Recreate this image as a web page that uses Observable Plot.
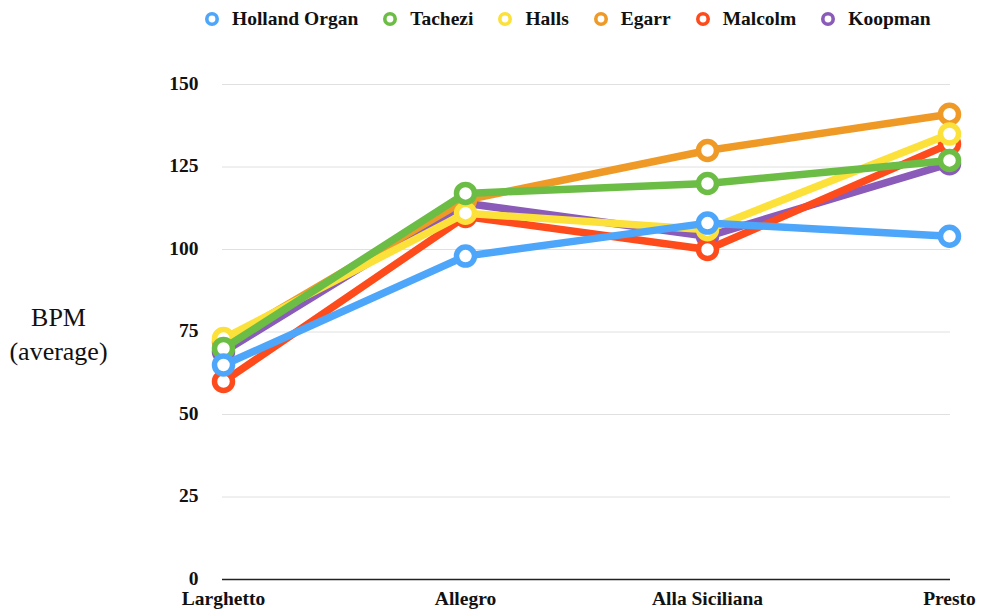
<!DOCTYPE html>
<html>
<head>
<meta charset="utf-8">
<script src="https://cdn.jsdelivr.net/npm/d3@7"></script>
<script src="https://cdn.jsdelivr.net/npm/@observablehq/plot@0.6"></script>
<style>
  body { margin: 0; background: #fff; font-family: "Liberation Serif", "Times New Roman", serif; }
  #legend { height: 38px; display: flex; align-items: center; padding-left: 204px; box-sizing: border-box; }
  .item { display: flex; align-items: center; margin-right: 24px; font-weight: bold; font-size: 19.5px; color: #111; }
  .item svg { margin-right: 12px; }
</style>
</head>
<body>
<div id="legend"></div>
<div id="chart"></div>
<script>
const categories = ["Larghetto", "Allegro", "Alla Siciliana", "Presto"];
const seriesNames = ["Holland Organ", "Tachezi", "Halls", "Egarr", "Malcolm", "Koopman"];
const seriesColors = ["#4da6f9", "#6cbd45", "#fce13b", "#ef9a26", "#fe4b1c", "#8a5bb8"];
const hollandOrgan = [65, 98, 108, 104];
const tachezi = [70, 117, 120, 127];
const halls = [73, 111, 106, 135];
const egarr = [72, 115, 130, 141];
const malcolm = [60, 110, 100, 132];
const koopman = [69, 114, 104, 126];
const yTicks = [0, 25, 50, 75, 100, 125, 150];
const yLabel = "BPM\n(average)";

const seriesValues = [hollandOrgan, tachezi, halls, egarr, malcolm, koopman];

// legend
const legend = document.getElementById("legend");
seriesNames.forEach((name, i) => {
  const item = document.createElement("div");
  item.className = "item";
  item.innerHTML = `<svg width="16" height="16"><circle cx="8" cy="8" r="5.2" fill="white" stroke="${seriesColors[i]}" stroke-width="3.6"/></svg><span>${name}</span>`;
  legend.appendChild(item);
});

const data = [];
seriesNames.forEach((name, i) => {
  categories.forEach((c, j) => data.push({series: name, category: c, bpm: seriesValues[i][j]}));
});

const order = seriesNames.slice().reverse();
const marks = [
  Plot.ruleY(yTicks.filter(d => d > 0), {stroke: "#e0e0e0", strokeWidth: 1}),
  Plot.axisY({ticks: yTicks, tickSize: 0, tickPadding: 24, fontSize: 19.5, fontWeight: "bold", label: null, fill: "#111", dy: -1}),
  Plot.axisX({tickSize: 0, tickPadding: 12, fontSize: 19.5, fontWeight: "bold", label: null, fill: "#111"}),
  Plot.text([yLabel], {frameAnchor: "left", dx: -164, text: d => d, fontSize: 26, lineHeight: 1.3, textAnchor: "middle", fill: "#111"}),
  Plot.ruleY([0], {stroke: "#222", strokeWidth: 1.5})
];
order.forEach(name => {
  const d = data.filter(r => r.series === name);
  marks.push(Plot.line(d, {x: "category", y: "bpm", stroke: "series", strokeWidth: 7.5, strokeLinejoin: "round", strokeLinecap: "round"}));
  marks.push(Plot.dot(d, {x: "category", y: "bpm", stroke: "series", fill: "white", r: 9, strokeWidth: 5.5}));
});

const chart = Plot.plot({
  width: 981,
  height: 572,
  marginLeft: 222,
  marginRight: 31,
  marginTop: 46,
  marginBottom: 31,
  style: {fontFamily: "'Liberation Serif', 'Times New Roman', serif", background: "white"},
  x: {type: "point", domain: categories, padding: 0},
  y: {domain: [0, 150]},
  color: {domain: seriesNames, range: seriesColors},
  marks
});
document.getElementById("chart").appendChild(chart);
</script>
</body>
</html>
